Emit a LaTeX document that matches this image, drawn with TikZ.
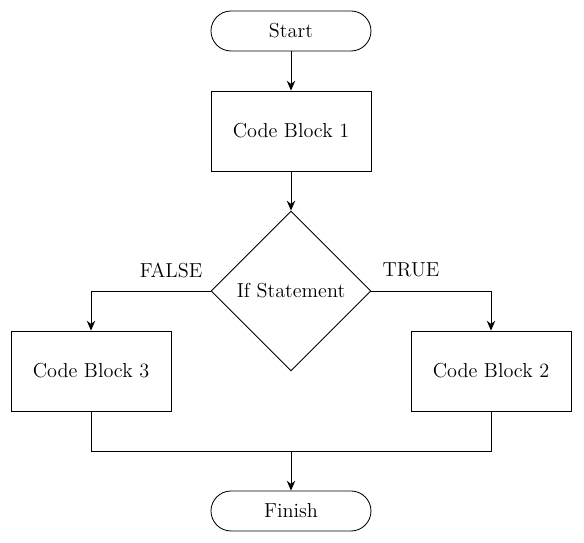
\documentclass[tikz,border=0pt]{standalone}
\usepackage{tikz}
\usetikzlibrary{shapes.geometric,arrows.meta}

\begin{document}
\begin{tikzpicture}[
        font=\Large,
        line width=0.6pt,
        >={Stealth[length=7pt,width=6pt]},
        terminal/.style={draw, rounded corners=0.5cm, minimum width=4cm, minimum height=1cm},
        process/.style={draw, minimum width=4cm, minimum height=2cm},
        decision/.style={draw, diamond, aspect=1, inner sep=0pt, minimum width=4cm, minimum height=4cm}
    ]
                \useasboundingbox (-7.275, 7.275) rectangle (7.325, -6.3);
                \node[terminal] (start) at (0, 6.5) {Start};
                \node[process] (block1) at (0, 4) {Code Block 1};
                \node[decision] (cond) at (0, 0) {If Statement};
                \node[process] (block3) at (-5, -2) {Code Block 3};
                \node[process] (block2) at (5, -2) {Code Block 2};
                \node[terminal] (finish) at (0, -5.5) {Finish};
                \coordinate (merge) at (0, -4);
                \node (falselbl) at (-3, 0.525) {FALSE};
                \node (truelbl) at (3, 0.525) {TRUE};
                \draw[->] (start) -- (block1);
                \draw[->] (block1) -- (cond);
                \draw[->] (cond.west) -| (block3.north);
                \draw[->] (cond.east) -| (block2.north);
                \draw (block3.south) |- (merge);
                \draw (block2.south) |- (merge);
                \draw[->] (merge) -- (finish);
            \end{tikzpicture}
\end{document}
